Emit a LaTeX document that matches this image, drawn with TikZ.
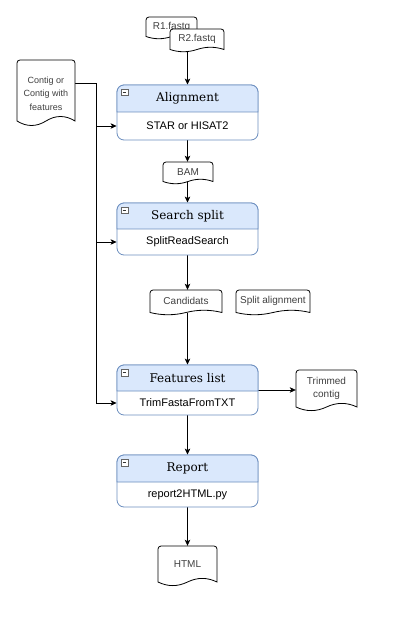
\documentclass[tikz,border=0pt]{standalone}
\usepackage{fontspec}
\newfontfamily\hdrfont{DejaVu Serif}
\newfontfamily\sansf{Liberation Sans}
\usetikzlibrary{arrows.meta,calc}
\definecolor{hdrfill}{HTML}{DAE8FC}
\definecolor{hdrline}{HTML}{6C8EBF}
\definecolor{doctext}{HTML}{404040}
\pgfdeclarelayer{bg}
\pgfsetlayers{bg,main}
\tikzset{
 container/.style={draw=hdrline, fill=white, rounded corners=7pt, minimum width=141pt, inner sep=0pt, line width=0.8pt},
 titletext/.style={font=\hdrfont\fontsize{12}{14}\selectfont, inner sep=0pt},
 bodytext/.style={font=\sansf\fontsize{11}{13}\selectfont, inner sep=0pt},
 doctxt/.style={font=\sansf\fontsize{10}{13.5}\selectfont, text=doctext, align=center, inner sep=0pt},
 docline/.style={draw=black, fill=white, line width=0.8pt},
 arr/.style={draw=black, line width=0.8pt, -{Stealth[length=6pt,width=5.5pt,inset=1.5pt]}},
 minusbox/.style={draw=black!60, fill=white, minimum size=6.5pt, inner sep=0pt, line width=0.5pt}
}
\newcommand\procbox[6]{%
 \node[container, minimum height={(#4-#2)*1pt}] (#1) at (187.5,{(#2+#4)/2}) {};
 \filldraw[fill=hdrfill, draw=hdrline, line width=0.8pt] (117,#3) [rounded corners=7pt] -- (117,#2) -- (258,#2) [sharp corners] -- (258,#3) -- cycle;
 \node[titletext] (#1-t) at (187.5,{(#2+#3)/2}) {#5};
 \node[bodytext] (#1-b) at (187.5,{(#3+#4)/2}) {#6};
 \node[minusbox, path picture={\draw[black!80, line width=0.6pt] ([xshift=1.3pt]path picture bounding box.west) -- ([xshift=-1.3pt]path picture bounding box.east);}] (#1-m) at (124.5,{#2+7.5}) {};
}
\newcommand\docnode[8][]{%
 \filldraw[docline] (#3,{#6-#7/2}) [rounded corners=3pt] -- (#3,#4) -- (#5,#4) [sharp corners] -- (#5,{#6-#7/2})
   .. controls ({#3+5*(#5-#3)/6},{#6-1.1*#7}) and ({#3+2*(#5-#3)/3},{#6-1.1*#7}) .. ({(#3+#5)/2},{#6-#7/2})
   .. controls ({#3+(#5-#3)/3},{#6+0.1*#7}) and ({#3+(#5-#3)/6},{#6+0.1*#7}) .. (#3,{#6-#7/2}) -- cycle;
 \node[doctxt, minimum width={(#5-#3)*1pt}, minimum height={(#6-#7/2-#4)*1pt}, #1] (#2) at ({(#3+#5)/2},{(#4+#6-#7/2)/2}) {#8};
}
\begin{document}
\begin{tikzpicture}[x=1pt,y=-1pt]
\useasboundingbox (0,0) rectangle (400,617);
\begin{pgfonlayer}{bg}
\fill[white] (0,0) rectangle (400,617);
\end{pgfonlayer}

% process containers
\procbox{align}{85}{112}{140}{Alignment}{STAR or HISAT2}
\procbox{split}{203}{229}{255}{Search split}{SplitReadSearch}
\procbox{feat}{365}{391}{415}{Features list}{TrimFastaFromTXT}
\procbox{report}{455}{482}{507}{Report}{report2HTML.py}

% documents
\docnode{R1}{146}{17}{197}{39}{5}{R1.fastq}
\docnode{R2}{170}{29}{224}{52}{5}{R2.fastq}
\docnode[font=\sansf\fontsize{9}{13.5}\selectfont, yshift=-3pt]{contig}{17}{60}{75}{126}{10}{Contig or\\Contig with\\features}
\docnode{bam}{163}{162}{213}{184}{5}{BAM}
\docnode{cand}{150}{290}{222}{315}{5}{Candidats}
\docnode{splitaln}{236}{290}{310}{315}{5}{Split alignment}
\docnode{trim}{296}{370}{357}{411}{8}{Trimmed\\contig}
\docnode{html}{158}{546}{217}{586}{8}{HTML}

\coordinate (bus) at (96,83);

\begin{pgfonlayer}{bg}
\draw[arr] (align.north |- R2.south) -- (align.north);
\draw[arr] (align.south) -- (align.south |- bam.north);
\draw[arr] (split.north |- bam.south) -- (split.north);
\draw[arr] (split.south) -- (split.south |- cand.north);
\draw[arr] (feat.north |- cand.south) -- (feat.north);
\draw[arr] (feat.east) -- (feat.east -| trim.west);
\draw[arr] (feat.south) -- (report.north);
\draw[arr] (report.south) -- (report.south |- html.north);
\draw[arr] (contig.east |- bus) -- (bus) |- (feat-b -| feat.west);
\draw[arr] (bus |- align-b) -- (align-b -| align.west);
\draw[arr] (bus |- split-b) -- (split-b -| split.west);
\end{pgfonlayer}
\end{tikzpicture}
\end{document}
